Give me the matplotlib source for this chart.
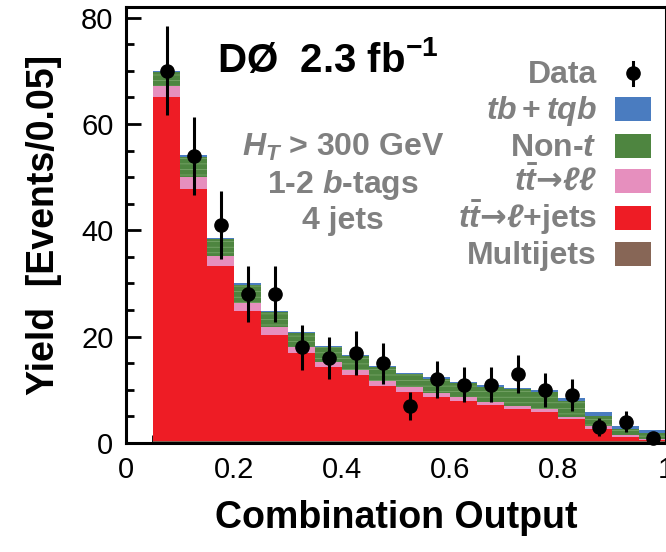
import numpy as np
import matplotlib
matplotlib.use("Agg")
import matplotlib.pyplot as plt
from matplotlib.patches import Rectangle
from matplotlib.lines import Line2D

plt.rcParams['font.family'] = ['Liberation Sans', 'DejaVu Sans']
plt.rcParams['mathtext.fontset'] = 'custom'
plt.rcParams['mathtext.rm'] = 'Liberation Sans:bold'
plt.rcParams['mathtext.it'] = 'Liberation Sans:bold:italic'
plt.rcParams['mathtext.bf'] = 'Liberation Sans:bold'
plt.rcParams['mathtext.sf'] = 'DejaVu Sans:bold'
plt.rcParams['hatch.linewidth'] = 0.5

# ---- data ----
bin_edges_left = [0.05, 0.10, 0.15, 0.20, 0.25, 0.30, 0.35, 0.40, 0.45, 0.50,
                  0.55, 0.60, 0.65, 0.70, 0.75, 0.80, 0.85, 0.90, 0.95]
bin_width = 0.05
data = [70, 54, 41, 28, 28, 18, 16, 17, 15, 7, 12, 11, 11, 13, 10, 9, 3, 4, 1]
multijets = [0.3] * 19
ttlj = [64.7, 47.5, 33.0, 24.6, 20.0, 16.6, 14.0, 12.5, 10.4, 9.3,
        8.4, 7.6, 6.9, 6.1, 5.5, 4.2, 2.3, 0.8, 0.2]
ttll = [2.2, 2.2, 1.9, 1.5, 1.5, 1.2, 1.0, 0.9, 1.0, 0.9,
        0.7, 0.8, 0.5, 0.6, 0.6, 0.4, 0.6, 0.4, 0.3]
nont = [2.5, 3.8, 3.1, 3.4, 2.8, 2.5, 2.7, 2.6, 2.5, 2.5,
        2.7, 2.5, 2.9, 3.1, 3.2, 3.0, 1.9, 1.2, 1.0]
tbtqb = [0.3, 0.3, 0.3, 0.3, 0.3, 0.3, 0.3, 0.3, 0.3, 0.2,
         0.3, 0.3, 0.3, 0.3, 0.4, 0.6, 0.7, 0.5, 0.6]

labels = ["Data", r"$tb+tqb$", r"Non-$t$", r"$t\bar{t}\mathsf{→}\ell\ell$",
          r"$t\bar{t}\mathsf{→}\ell$+jets", "Multijets"]
c_blue = "#4a7cc0"
c_green = "#4e8540"
c_pink = "#e68fbe"
c_red = "#ee1c25"
c_brown = "#876656"
gray = "#808080"

W, H = 666, 552
fig = plt.figure(figsize=(W / 100, H / 100), dpi=100)
ax = fig.add_axes([126 / W, (H - 443) / H, 540 / W, (443 - 7) / H])

x = np.array(bin_edges_left)
bottom = np.zeros(len(x))
for vals, col in [(multijets, c_brown), (ttlj, c_red), (ttll, c_pink),
                  (nont, c_green), (tbtqb, c_blue)]:
    v = np.array(vals)
    ax.bar(x, v, width=bin_width, bottom=bottom, align='edge', color=col,
           linewidth=0, zorder=2)
    if col == c_green:
        ax.bar(x, v, width=bin_width, bottom=bottom, align='edge',
               facecolor='none', edgecolor="#7fab70", linewidth=0,
               hatch='---', zorder=2.1)
    bottom = bottom + v

centers = x + bin_width / 2
d = np.array(data, dtype=float)
ax.errorbar(centers, d, yerr=np.sqrt(d), fmt='o', color='black', ms=9.5,
            elinewidth=2.2, capsize=0, zorder=5, clip_on=False)

ax.set_xlim(0, 1.0)
ax.set_ylim(0, 82)
ax.set_xticks([0, 0.2, 0.4, 0.6, 0.8, 1.0])
ax.set_xticklabels(["0", "0.2", "0.4", "0.6", "0.8", "1"])
ax.set_xticks(np.arange(0, 1.0001, 0.05), minor=True)
ax.set_yticks([0, 20, 40, 60, 80])
ax.set_yticks(np.arange(0, 81, 5), minor=True)
ax.tick_params(which='both', direction='in', width=2, labelsize=21,
               top=False, right=False)
ax.tick_params(which='major', length=11, pad=9)
ax.tick_params(which='minor', length=6)
for s in ax.spines.values():
    s.set_linewidth(2.2)
    s.set_zorder(6)

ax.set_xlabel("Combination Output", fontsize=27, fontweight='bold', labelpad=12)
ax.set_ylabel("Yield  [Events/0.05]", fontsize=27, fontweight='bold', labelpad=14)

def fx(px):
    return px / W

def fy(py):
    return (H - py) / H

fig.text(fx(217), fy(72), r"DØ  2.3 fb$^{\mathregular{-1}}$", fontsize=29,
         fontweight='bold', color='black', ha='left', va='baseline')

for txt, yb in [(r"$H_T$ > 300 GeV", 156), (r"1-2 $b$-tags", 193), ("4 jets", 229)]:
    fig.text(fx(343), fy(yb), txt, fontsize=23, fontweight='bold', color=gray,
             ha='center', va='baseline')

rows = [73, 109, 146, 181, 218, 254]
sw_cols = [None, c_blue, c_green, c_pink, c_red, c_brown]
for lab, yc, col in zip(labels, rows, sw_cols):
    fig.text(fx(597), fy(yc + 10), lab, fontsize=23, fontweight='bold',
             color=gray, ha='right', va='baseline')
    if col is None:
        fig.add_artist(Line2D([fx(633), fx(633)], [fy(62), fy(85)],
                              color='black', lw=2.2, transform=fig.transFigure))
        fig.add_artist(Line2D([fx(633)], [fy(73)], marker='o', ms=9.5,
                              color='black', transform=fig.transFigure))
    else:
        fig.add_artist(Rectangle((fx(615), fy(yc + 12)), 36 / W, 24 / H,
                                 facecolor=col, edgecolor='none',
                                 transform=fig.transFigure))

fig.savefig("out.png", dpi=100)
